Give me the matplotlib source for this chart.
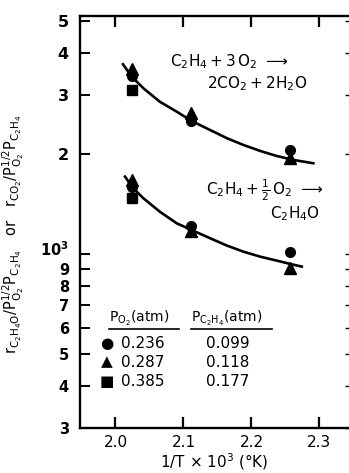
import matplotlib
matplotlib.use("Agg")
import matplotlib.pyplot as plt
import matplotlib.transforms as mtransforms
from matplotlib.lines import Line2D

# ---- data ----
inv_T = [2.025, 2.111, 2.257]

# CO2 formation (upper set)
co2_circle = [3430, 2500, 2050]
co2_triangle = [3590, 2650, 1940]
co2_square_x = [2.025]
co2_square = [3110]

# C2H4O formation (lower set)
eo_circle = [1590, 1214, 1012]
eo_triangle = [1668, 1172, 906]
eo_square_x = [2.025]
eo_square = [1470]

# hand-drawn fitted curves
co2_curve_x = [2.011, 2.024, 2.041, 2.065, 2.090, 2.112, 2.139, 2.164, 2.188, 2.213, 2.237, 2.262, 2.291]
co2_curve_y = [3713, 3407, 3145, 2867, 2675, 2508, 2357, 2226, 2125, 2038, 1969, 1915, 1872]
eo_curve_x = [2.014, 2.026, 2.041, 2.065, 2.090, 2.112, 2.139, 2.164, 2.188, 2.213, 2.237, 2.257, 2.274]
eo_curve_y = [1707, 1575, 1470, 1340, 1236, 1180, 1115, 1059, 1016, 981, 955, 933, 916]

# legend table
p_o2 = ["0.236", "0.287", "0.385"]
p_c2h4 = ["0.099", "0.118", "0.177"]
legend_marks = ["●", "▲", "■"]

x_ticks = [2.0, 2.1, 2.2, 2.3]
x_ticklabels = ["2.0", "2.1", "2.2", "2.3"]
y_ticks = [300, 400, 500, 600, 700, 800, 900, 1000, 2000, 3000, 4000, 5000]
y_ticklabels = ["3", "4", "5", "6", "7", "8", "9", "", "2", "3", "4", "5"]
decade_value = 1000
decade_label = r"$\mathbf{10^3}$"

W, H = 349, 473
fig = plt.figure(figsize=(W / 100, H / 100), dpi=100)
L, R, T, B = 80, 349, 16, 428
ax = fig.add_axes([L / W, 1 - B / H, (R - L) / W, (B - T) / H])

ax.set_yscale("log")
ax.set_xlim(1.9478, 2.3434)
ax.set_ylim(300, 5184)

ms = 7
ax.plot(co2_curve_x, co2_curve_y, color="black", lw=1.9, zorder=2)
ax.plot(eo_curve_x, eo_curve_y, color="black", lw=1.9, zorder=2)
for xs, ys, m, s in [(inv_T, co2_triangle, "^", ms + 1), (inv_T, co2_circle, "o", ms),
                     (co2_square_x, co2_square, "s", ms - 0.5),
                     (inv_T, eo_triangle, "^", ms + 1), (inv_T, eo_circle, "o", ms),
                     (eo_square_x, eo_square, "s", ms - 0.5)]:
    ax.plot(xs, ys, linestyle="none", marker=m, markersize=s, color="black", zorder=3)

# axes styling
for side in ["left", "bottom", "top"]:
    ax.spines[side].set_linewidth(1.7)
ax.spines["right"].set_visible(False)

ax.set_xticks(x_ticks)
ax.set_xticklabels(x_ticklabels, fontsize=11)
ax.set_yticks(y_ticks)
ax.set_yticklabels(y_ticklabels, fontweight="bold")
for v, lab in zip(y_ticks, ax.get_yticklabels()):
    lab.set_fontsize(10.5 if v <= 1000 else 11.5)
ax.yaxis.set_minor_locator(matplotlib.ticker.NullLocator())
ax.xaxis.set_minor_locator(matplotlib.ticker.NullLocator())
ax.tick_params(axis="x", which="major", direction="in", length=8, width=1.6,
               top=True, bottom=True, pad=5)
ax.tick_params(axis="y", which="major", direction="in", length=7, width=1.4,
               left=True, right=False, pad=8)

# decade label, nudged up a little so it does not collide with "9"
trans = mtransforms.blended_transform_factory(ax.transAxes, ax.transData)
trans = trans + mtransforms.ScaledTranslation(-8 / 72, 3 / 72, fig.dpi_scale_trans)
ax.text(0, decade_value, decade_label, transform=trans, ha="right", va="center",
        fontsize=10.5)

# short inward ticks on the right side
axr = ax.twinx()
axr.set_yscale("log")
axr.set_ylim(ax.get_ylim())
axr.set_yticks(y_ticks)
axr.yaxis.set_minor_locator(matplotlib.ticker.NullLocator())
axr.tick_params(axis="y", direction="in", length=3, width=1.0, labelright=False)
for s in axr.spines.values():
    s.set_visible(False)

ax.set_xlabel(r"1/T × 10$^3$ (°K)", fontsize=11, labelpad=1)
ax.set_ylabel(r"$\mathrm{r_{C_2H_4O}/P_{O_2}^{1/2}P_{C_2H_4}}$   or   $\mathrm{r_{CO_2}/P_{O_2}^{1/2}P_{C_2H_4}}$",
              fontsize=10.5)
ax.yaxis.set_label_coords(-(80 - 26) / (R - L), 0.47)

def fx(px):
    return px / W

def fy(py):
    return 1 - py / H

# reaction annotations
fig.text(fx(170), fy(62), r"$\mathrm{C_2H_4 + 3\,O_2}$ $\longrightarrow$", fontsize=11, va="center", ha="left")
fig.text(fx(207), fy(84), r"$\mathrm{2CO_2 + 2H_2O}$", fontsize=11, va="center", ha="left")
fig.text(fx(206), fy(190), r"$\mathrm{C_2H_4 + \frac{1}{2}\,O_2}$ $\longrightarrow$", fontsize=11, va="center", ha="left")
fig.text(fx(270), fy(214), r"$\mathrm{C_2H_4O}$", fontsize=11, va="center", ha="left")

# legend table
fig.text(fx(109), fy(318), r"$\mathrm{P_{O_2}}$(atm)", fontsize=10, va="center", ha="left")
fig.text(fx(191), fy(318), r"$\mathrm{P_{C_2H_4}}$(atm)", fontsize=10, va="center", ha="left")
fig.add_artist(Line2D([fx(109), fx(179)], [fy(329), fy(329)], color="black", lw=1.2))
fig.add_artist(Line2D([fx(191), fx(272)], [fy(329), fy(329)], color="black", lw=1.2))
rows_y = [343, 362, 381]
for mk, a, b, ry in zip(legend_marks, p_o2, p_c2h4, rows_y):
    fig.text(fx(107), fy(ry), mk, fontsize=11, va="center", ha="center")
    fig.text(fx(121), fy(ry), a, fontsize=11, va="center", ha="left")
    fig.text(fx(206), fy(ry), b, fontsize=11, va="center", ha="left")

fig.savefig("out.png", dpi=100)
